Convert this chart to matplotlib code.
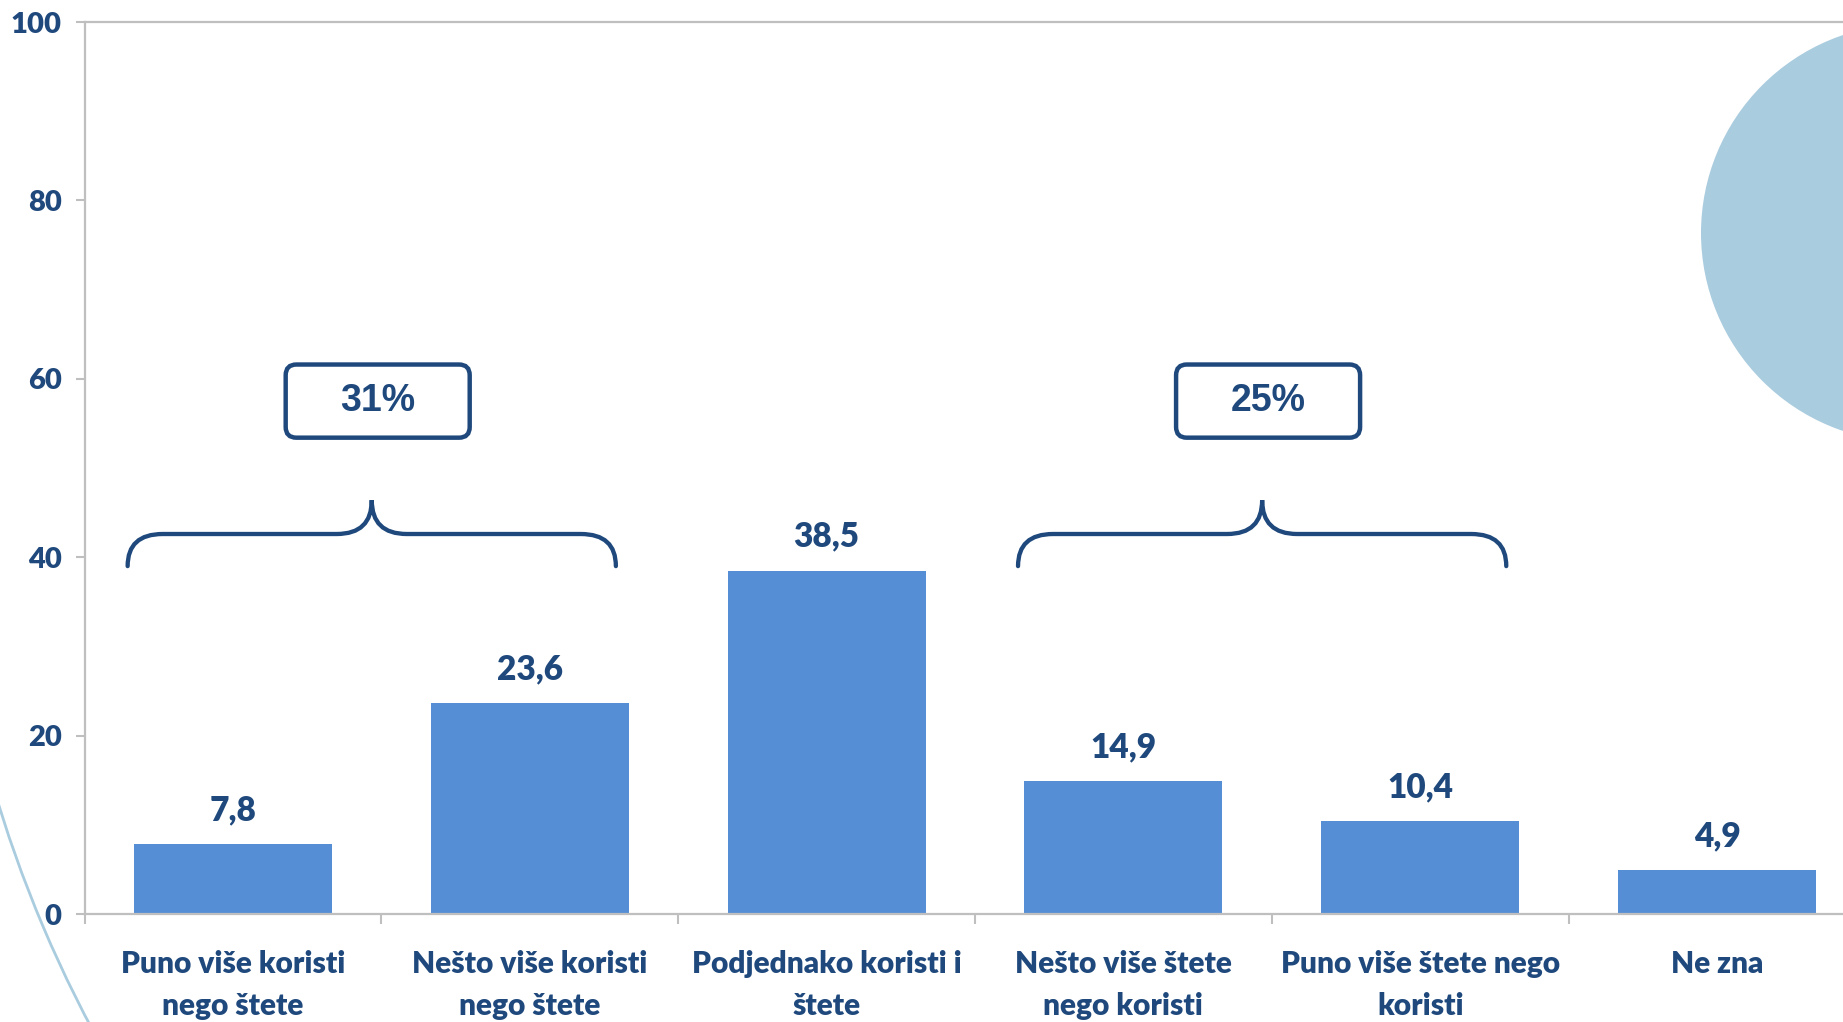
import numpy as np
import matplotlib
matplotlib.use("Agg")
import matplotlib.pyplot as plt
from matplotlib.path import Path
from matplotlib.patches import PathPatch, FancyBboxPatch, Circle, Arc

# Podaci
categories = ["Puno više koristi\nnego štete", "Nešto više koristi\nnego štete",
              "Podjednako koristi i\nštete", "Nešto više štete\nnego koristi",
              "Puno više štete nego\nkoristi", "Ne zna"]
values = [7.8, 23.6, 38.5, 14.9, 10.4, 4.9]
yticks = [0, 20, 40, 60, 80, 100]
groups = [(0, 1), (3, 4)]
group_labels = ["31%", "25%"]

dark = "#1F497D"
bar_col = "#558ED5"
grey = "#BFBFBF"
light = "#AACCDF"

plt.rcParams["font.family"] = ["Lato", "DejaVu Sans"]
plt.rcParams["font.weight"] = "heavy"

fig = plt.figure(figsize=(18.43, 10.22), dpi=100)

# pozadina (ukrasi u pikselima)
bg = fig.add_axes([0, 0, 1, 1], zorder=5)
bg.set_xlim(0, 1843)
bg.set_ylim(1022, 0)
bg.axis("off")
bg.patch.set_alpha(0)
bg.add_patch(Circle((1910, 233), 209, color=light, lw=0))
bg.add_patch(Arc((1205, 434), 2524, 2524, theta1=150, theta2=164,
                 color=light, lw=2))

ax = fig.add_axes([84.6 / 1843, 108 / 1022, 6 * 296.8 / 1843, 892 / 1022], zorder=2)
x = np.arange(len(values))
ax.bar(x, values, width=0.667, color=bar_col, zorder=2)
ax.set_xlim(-0.5, 5.5)
ax.set_ylim(0, 100)

ax.spines["right"].set_visible(False)
for s in ["left", "bottom", "top"]:
    ax.spines[s].set_color(grey)
    ax.spines[s].set_linewidth(1.6)

ax.set_yticks(yticks)
ax.tick_params(axis="y", length=6.5, width=1.5, color=grey, pad=10,
               labelsize=21, labelcolor=dark)
ax.set_xticks(x)
ax.set_xticklabels(categories, fontsize=21.5, color=dark, linespacing=1.6)
ax.set_xticks(np.arange(-0.5, 6, 1), minor=True)
ax.tick_params(axis="x", which="major", length=0, pad=26)
ax.tick_params(axis="x", which="minor", length=7.5, width=1.5, color=grey)

for i, v in enumerate(values):
    ax.text(i, v + 2.7, f"{v:.1f}".replace(".", ","), ha="center", va="baseline",
            fontsize=24, color=dark)

# vitičaste zagrade i okviri
rx, ry = 0.118, 3.7
for (i0, i1), lab in zip(groups, group_labels):
    left, right = i0 - 0.355, i1 + 0.29
    mid = (left + right) / 2
    yb, yl, yp = 39.0, 42.6, 46.4
    verts = [(left, yb), (left, yl), (left + rx, yl),
             (mid - rx, yl),
             (mid, yl), (mid, yp),
             (mid, yl), (mid + rx, yl),
             (right - rx, yl),
             (right, yl), (right, yb)]
    codes = [Path.MOVETO, Path.CURVE3, Path.CURVE3,
             Path.LINETO,
             Path.CURVE3, Path.CURVE3,
             Path.CURVE3, Path.CURVE3,
             Path.LINETO,
             Path.CURVE3, Path.CURVE3]
    ax.add_patch(PathPatch(Path(verts, codes), fill=False, ec=dark, lw=3.1,
                           capstyle="round", zorder=3))
    bw, bh = 0.62, 8.2
    by = 57.5
    ax.add_patch(FancyBboxPatch((mid + 0.02 - bw / 2, by - bh / 2), bw, bh,
                                boxstyle="round,pad=0,rounding_size=0.036",
                                mutation_aspect=33.3, fc="white", ec=dark,
                                lw=3.2, zorder=3))
    ax.text(mid + 0.02, by, lab, ha="center", va="center", fontsize=27,
            color=dark, fontweight="bold", family="Liberation Sans", zorder=4)

fig.savefig("out.png", dpi=100)
